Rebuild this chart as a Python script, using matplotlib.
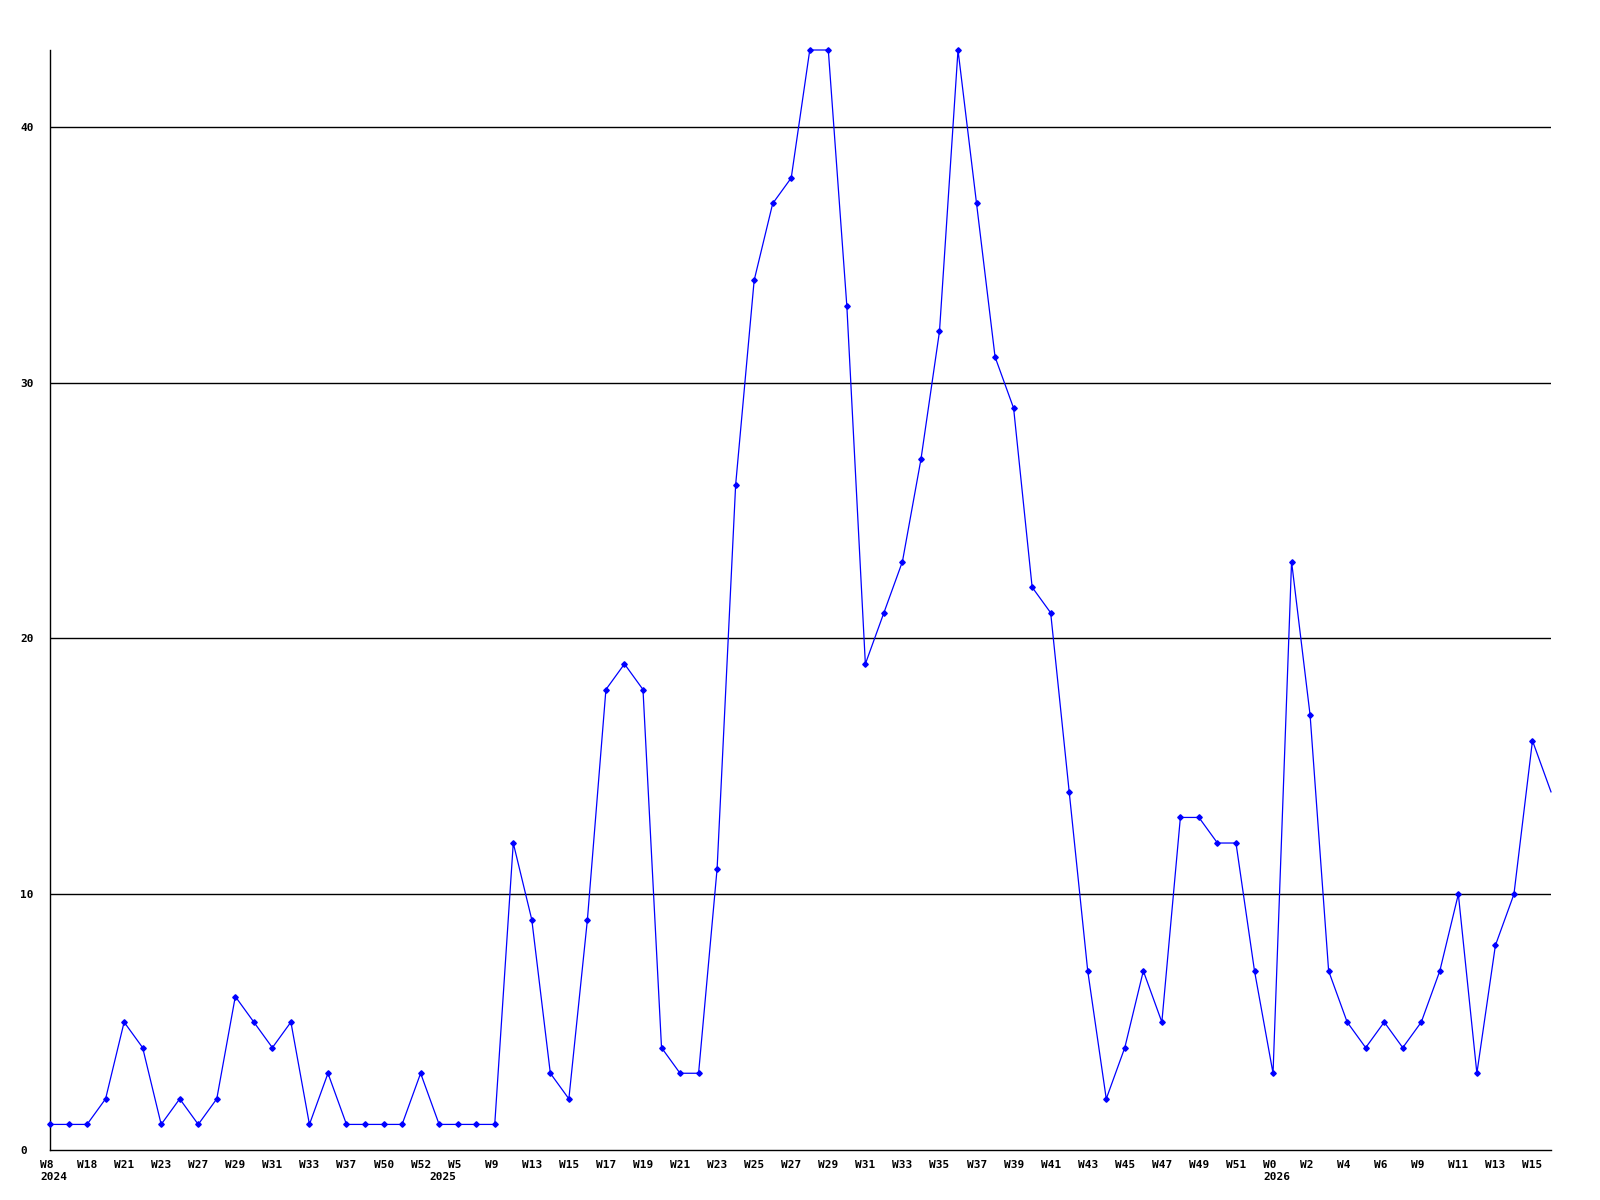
import matplotlib
matplotlib.use("Agg")
import matplotlib.pyplot as plt
from matplotlib.transforms import ScaledTranslation

values = [1, 1, 1, 2, 5, 4, 1, 2, 1, 2,
          6, 5, 4, 5, 1, 3, 1, 1, 1, 1,
          3, 1, 1, 1, 1, 12, 9, 3, 2, 9,
          18, 19, 18, 4, 3, 3, 11, 26, 34, 37,
          38, 43, 43, 33, 19, 21, 23, 27, 32, 43,
          37, 31, 29, 22, 21, 14, 7, 2, 4, 7,
          5, 13, 13, 12, 12, 7, 3, 23, 17, 7,
          5, 4, 5, 4, 5, 7, 10, 3, 8, 10,
          16, 14]

week_labels = ["W8", "W18", "W21", "W23", "W27", "W29", "W31", "W33", "W37",
               "W50", "W52", "W5", "W9", "W13", "W15", "W17", "W19", "W21",
               "W23", "W25", "W27", "W29", "W31", "W33", "W35", "W37", "W39",
               "W41", "W43", "W45", "W47", "W49", "W51", "W0", "W2", "W4",
               "W6", "W9", "W11", "W13", "W15"]
week_label_pos = list(range(0, 82, 2))
year_labels = ["2024", "2025", "2026"]
year_pos = [0, 21, 66]

DPI = 100
fig = plt.figure(figsize=(16, 12), dpi=DPI)
ax = fig.add_axes([50 / 1600, 1 - 1150 / 1200, 1501 / 1600, 1100 / 1200])

x = list(range(len(values)))
ax.plot(x, values, color="#0000ff", linewidth=0.9, marker="D", markersize=2.8,
        markevery=list(range(len(values) - 1)), clip_on=False, zorder=3)

ax.set_xlim(0, len(values) - 1)
ax.set_ylim(0, 43)

for s in ["top", "right"]:
    ax.spines[s].set_visible(False)
for s in ["left", "bottom"]:
    ax.spines[s].set_color("black")
    ax.spines[s].set_linewidth(1.0)

ax.set_yticks([0, 10, 20, 30, 40])
for yv in [10, 20, 30, 40]:
    ax.axhline(yv, color="black", linewidth=1.0, zorder=1)

font = dict(family="DejaVu Sans Mono", weight="bold", size=8)

# x tick labels: week labels, with year on a second line
major_labels = []
for pos, lab in zip(week_label_pos, week_labels):
    txt = lab
    if pos in year_pos:
        txt = lab + "\n" + year_labels[year_pos.index(pos)]
    major_labels.append(txt)
ax.set_xticks(week_label_pos)
ax.set_xticklabels(major_labels, fontdict=font, ha="left", linespacing=1.25)
minor_pos = [p for p in year_pos if p not in week_label_pos]
ax.set_xticks(minor_pos, minor=True)
ax.set_xticklabels([year_labels[year_pos.index(p)] for p in minor_pos],
                   minor=True, fontdict=font, ha="left")
ax.tick_params(axis="x", which="major", length=0, pad=7)
ax.tick_params(axis="x", which="minor", length=0, pad=15.5)
offset = ScaledTranslation(-10 / DPI, 0, fig.dpi_scale_trans)
for lab in ax.get_xticklabels() + ax.get_xticklabels(minor=True):
    lab.set_transform(lab.get_transform() + offset)

ax.set_yticklabels(["0", "10", "20", "30", "40"], fontdict=font, ha="left")
ax.tick_params(axis="y", length=0, pad=21.6)

fig.savefig("out.png", dpi=DPI, facecolor="white")
